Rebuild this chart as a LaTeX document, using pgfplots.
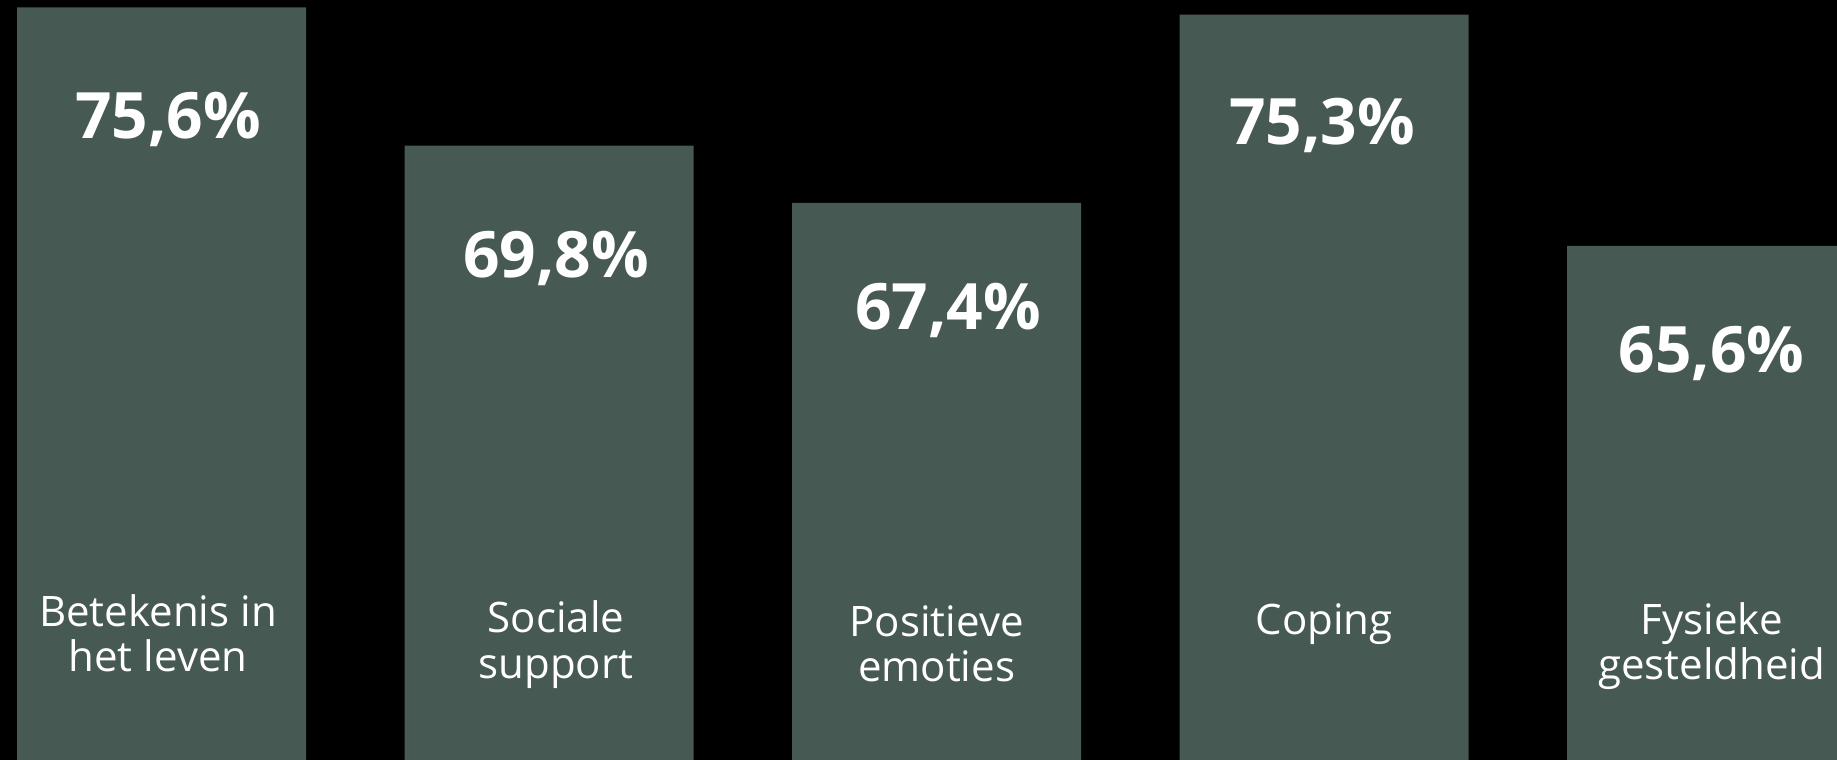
\documentclass[border=0pt]{standalone}
\usepackage{fontspec}
\setmainfont{Open Sans}
\usepackage{pgfplots}
\pgfplotsset{compat=1.18}

\definecolor{barcol}{RGB}{71,89,83}

\newcommand{\valfont}{\fontsize{32}{36}\selectfont\bfseries}
\newcommand{\labfont}{\fontsize{21}{23}\selectfont}

\tikzset{
  val/.style={text=white, inner sep=0pt, anchor=base, font=\valfont},
  lab/.style={text=white, inner sep=0pt, anchor=base, font=\labfont},
}

\begin{document}
\begin{tikzpicture}
  % black page behind everything, 1 px = 0.5 pt
  \fill[black] (0,0) rectangle (918.5pt,380pt);
  \begin{axis}[
      name=ax,
      at={(0,0)}, anchor=south west,
      scale only axis,
      width=918.5pt, height=380pt,
      hide axis,
      xmin=-0.417, xmax=4.3235,
      ymin=44.04, ymax=75.91,
      ybar, bar width=144.5pt,
      clip=true,
    ]
    \addplot[draw=none, fill=barcol] coordinates {
      (0,75.6) (1,69.8) (2,67.4) (3,75.3) (4,65.6)
    };

    % values, set just below the top of each bar
    \node[val, xshift=3.2pt,  yshift=-65.5pt] at (axis cs:0,75.6) {75,6\%};
    \node[val, xshift=3.4pt,  yshift=-66pt]   at (axis cs:1,69.8) {69,8\%};
    \node[val, xshift=5.7pt,  yshift=-63.5pt] at (axis cs:2,67.4) {67,4\%};
    \node[val, xshift=-1pt,   yshift=-65pt]   at (axis cs:3,75.3) {75,3\%};
    \node[val, xshift=0pt,    yshift=-63.5pt] at (axis cs:4,65.6) {65,6\%};

    % category names near the bottom
    \node[lab, xshift=-1.8pt, yshift=66.5pt] at (axis cs:0,44.04) {Betekenis in};
    \node[lab, xshift=-1.8pt, yshift=44pt]   at (axis cs:0,44.04) {het leven};
    \node[lab, xshift=3.4pt,  yshift=63.5pt] at (axis cs:1,44.04) {Sociale};
    \node[lab, xshift=3.4pt,  yshift=40.5pt] at (axis cs:1,44.04) {support};
    \node[lab, yshift=61.5pt] at (axis cs:2,44.04) {Positieve};
    \node[lab, yshift=39pt]   at (axis cs:2,44.04) {emoties};
    \node[lab, yshift=62.5pt] at (axis cs:3,44.04) {Coping};
    \node[lab, yshift=62.5pt] at (axis cs:4,44.04) {Fysieke};
    \node[lab, yshift=40pt]   at (axis cs:4,44.04) {gesteldheid};
  \end{axis}
  \pgfresetboundingbox
  \path[use as bounding box] (0,0) rectangle (918.5pt,380pt);
\end{tikzpicture}
\end{document}
